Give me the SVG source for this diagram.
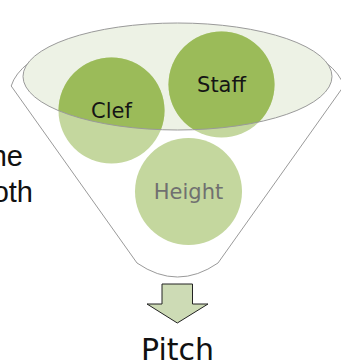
<svg xmlns="http://www.w3.org/2000/svg" width="341" height="362" viewBox="0 0 341 362">
<style>
.lbl{font-family:"DejaVu Sans",sans-serif;font-size:21px;text-anchor:middle}
.big{font-family:"DejaVu Sans",sans-serif;font-size:30px;fill:#111}
.side{font-family:"Liberation Sans",Arial,sans-serif;font-size:29px;fill:#111;text-anchor:end}
.light{fill:#C4D79E}
.dark{fill:#9BBB59}
.outline{fill:none;stroke:#9a9a9a;stroke-width:1}
</style>
<defs>
<clipPath id="topClip"><ellipse cx="177.5" cy="76.5" rx="154.5" ry="53.5"/></clipPath>
</defs>
<rect width="341" height="362" fill="#ffffff"/>
<g id="sidetext">
<text class="side" x="23" y="166">he</text>
<text class="side" x="33" y="202">oth</text>
</g>
<g id="funnel">
<path class="outline" d="M 11.2 86 A 167.5 68 0 0 1 343.8 86 L 218 263 Q 177.5 291 137 263 Z" fill="#ffffff"/>
<ellipse cx="177.5" cy="76.5" rx="154.5" ry="53.5" fill="#EDF2E5"/>
</g>
<g id="clef">
<circle class="light" cx="111.5" cy="110.5" r="53"/>
<circle class="dark" cx="111.5" cy="110.5" r="53" clip-path="url(#topClip)"/>
</g>
<g id="staff">
<circle class="light" cx="221.5" cy="84.5" r="53"/>
<circle class="dark" cx="221.5" cy="84.5" r="53" clip-path="url(#topClip)"/>
</g>
<ellipse class="outline" cx="177.5" cy="76.5" rx="154.5" ry="53.5"/>
<text class="lbl" x="111.5" y="118" fill="#151515">Clef</text>
<text class="lbl" x="221.5" y="92" fill="#151515">Staff</text>
<g id="height">
<circle class="light" cx="188.5" cy="191.5" r="53.5"/>
<text class="lbl" x="188.5" y="199" fill="#707070">Height</text>
</g>
<g id="connectors">
<path d="M 162 284 L 192.5 284 L 192.5 304 L 208 304 L 177.3 323 L 147 304 L 162 304 Z" fill="#CDDBB5" stroke="#222" stroke-width="1"/>
</g>
<g id="pitch">
<text class="big" x="177.5" y="360" text-anchor="middle" font-size="29">Pitch</text>
</g>
</svg>
